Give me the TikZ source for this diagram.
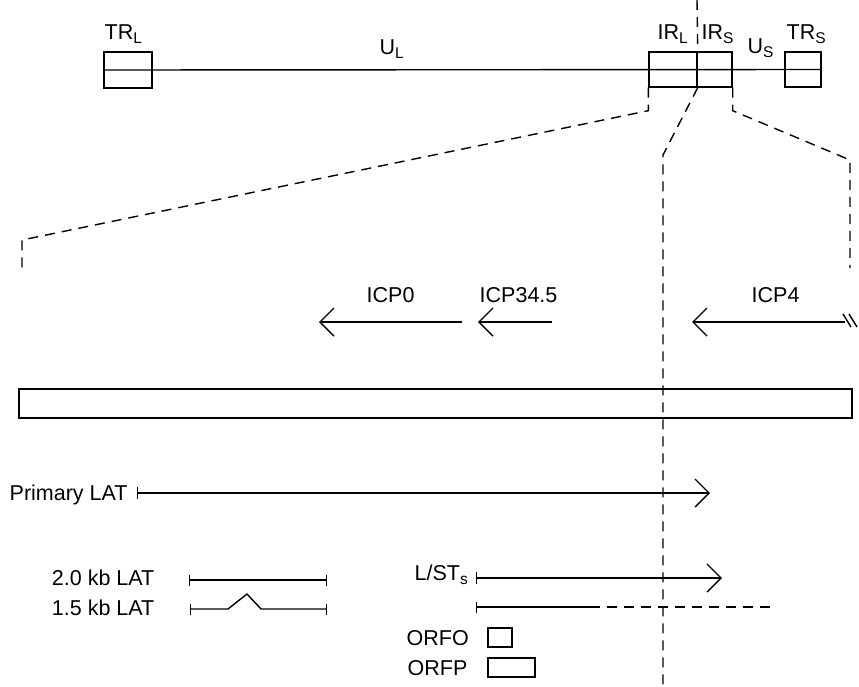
\documentclass[tikz,border=0pt]{standalone}
\usepackage{fontspec}
\setmainfont{Liberation Sans}
\usetikzlibrary{arrows.meta}
\newcommand{\mysub}[1]{\raisebox{-4.5pt}{\fontsize{15.5}{15.5}\selectfont #1}}
\begin{document}
\begin{tikzpicture}[x=1pt,y=-1pt,line width=1.4pt,
  lbl/.style={inner sep=0pt,font=\fontsize{21.5}{25}\selectfont},
  boxnode/.style={draw,inner sep=0pt},
  dsh/.style={dash pattern=on 10pt off 7pt},
  arr/.style={-{Straight Barb[length=14pt,width=28pt]}},
  barr/.style={{Bar[width=12pt]}-{Straight Barb[length=14pt,width=28pt]}},
  bb/.style={{Bar[width=11pt]}-{Bar[width=11pt]}}]
\useasboundingbox (0,0) rectangle (859,686);

% top genome map
\node[boxnode,minimum width=48pt,minimum height=36pt] (trl) at (128,70) {};
\node[boxnode,minimum width=48pt,minimum height=35pt] (irl) at (673,69.5) {};
\node[boxnode,minimum width=35pt,minimum height=35pt] (irs) at (714.5,69.5) {};
\node[boxnode,minimum width=36pt,minimum height=35pt] (trs) at (803,69.5) {};
\draw (trl.west) -- (trs.east);
\coordinate (topdash) at (697,0);
\draw[dsh] (topdash) -- (irl.north east);

\node[lbl,anchor=base west] (ttrl) at (104,39) {TR\mysub{L}};
\node[lbl,anchor=base west] (tul) at (379,54) {U\mysub{L}};
\node[lbl,anchor=base west] (tirl) at (657,39) {IR\mysub{L}};
\node[lbl,anchor=base west] (tirs) at (701,39) {IR\mysub{S}};
\node[lbl,anchor=base west] (tus) at (747,53) {U\mysub{S}};
\node[lbl,anchor=base west] (ttrs) at (786,39) {TR\mysub{S}};

% expansion lines
\coordinate (lbend) at (22,240);
\coordinate (lend) at (22,268);
\coordinate (mbend) at (663,155);
\coordinate (mend) at (663,686);
\coordinate (rbend) at (850,160);
\coordinate (rend) at (850,268);
\draw[dsh] (irl.south west) -- ++(0,23) -- (lbend) -- (lend);
\draw[dsh] (irl.south east) -- (mbend) -- (mend);
\draw[dsh] (irs.south east) -- ++(0,23) -- (rbend) -- (rend);

% transcripts ICP
\coordinate (icp0s) at (462,322);
\coordinate (icp0e) at (319,322);
\coordinate (icp345s) at (552,322);
\coordinate (icp345e) at (478,322);
\coordinate (icp4s) at (845,322);
\coordinate (icp4e) at (692,322);
\draw[arr] (icp0s) -- (icp0e);
\draw[arr] (icp345s) -- (icp345e);
\draw[arr] (icp4s) -- (icp4e);
\draw (843,314) -- (851,327);
\draw (849,314) -- (857,327);
\node[lbl,anchor=base west] (ticp0) at (366,302) {ICP0};
\node[lbl,anchor=base west] (ticp345) at (479,302) {ICP34.5};
\node[lbl,anchor=base west] (ticp4) at (751,302) {ICP4};

% genome region box
\node[boxnode,minimum width=833pt,minimum height=29pt] (region) at (435.5,403.5) {};

% Primary LAT
\node[lbl,anchor=base west] (tplat) at (9,500) {Primary LAT};
\coordinate (plats) at (137,493);
\coordinate (plate) at (710,493);
\draw[barr] (plats) -- (plate);

% 2.0 and 1.5 kb LAT
\node[lbl,anchor=base east] (t20) at (155,585) {2.0 kb LAT};
\node[lbl,anchor=base east] (t15) at (155,615) {1.5 kb LAT};
\coordinate (l20s) at (189,580);
\coordinate (l20e) at (327,580);
\draw[bb] (l20s) -- (l20e);
\coordinate (l15s) at (190,609);
\coordinate (l15e) at (327,609);
\draw[bb] (l15s) -- (228,609) -- (247,594) -- (261,609) -- (l15e);

% L/ST
\node[lbl,anchor=base west] (tlst) at (414,580) {L/ST\mysub{s}};
\coordinate (lsts) at (476,578);
\coordinate (lste) at (722,578);
\draw[barr] (lsts) -- (lste);
\coordinate (l2s) at (476,607);
\coordinate (l2m) at (590,607);
\coordinate (l2e) at (775,607);
\draw[{Bar[width=11pt]}-] (l2s) -- (l2m);
\draw[dsh] (l2m) -- (l2e);

% ORFs
\node[lbl,anchor=base west] (torfo) at (406,645) {ORFO};
\node[lbl,anchor=base west] (torfp) at (407,675) {ORFP};
\node[boxnode,line width=1.1pt,minimum width=24pt,minimum height=19pt] (orfo) at (500,637.5) {};
\node[boxnode,line width=1.1pt,minimum width=47pt,minimum height=19pt] (orfp) at (511.5,667.5) {};
\end{tikzpicture}
\end{document}
